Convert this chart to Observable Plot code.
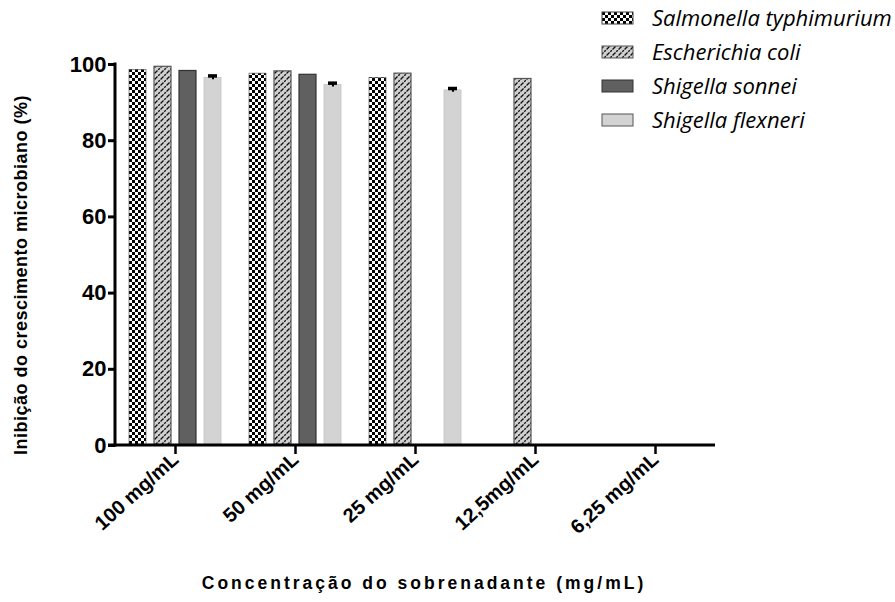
<!DOCTYPE html>
<html><head><meta charset="utf-8">
<script src="https://cdn.jsdelivr.net/npm/d3@7"></script>
<script src="https://cdn.jsdelivr.net/npm/@observablehq/plot@0.6"></script>
<style>
body{margin:0;background:#fff;}
#wrap{position:relative;width:895px;height:602px;overflow:hidden;background:#fff;}
#legend{position:absolute;left:596px;top:0px;}
</style></head><body><div id="wrap"></div>
<script>
const concentrations = ["100 mg/mL", "50 mg/mL", "25 mg/mL", "12,5mg/mL", "6,25 mg/mL"];
const species = ["Salmonella typhimurium", "Escherichia coli", "Shigella sonnei", "Shigella flexneri"];
const salmonella = [98.6, 97.6, 96.5, 0, 0];
const ecoli = [99.4, 98.2, 97.6, 96.2, 0];
const sonnei = [98.3, 97.3, 0, 0, 0];
const flexneri = [96.5, 94.6, 93.2, 0, 0];
const flexneriError = [0.5, 0.5, 0.5, 0, 0];
const yTicks = [0, 20, 40, 60, 80, 100];
const xTitle = "Concentração do sobrenadante (mg/mL)";
const yTitle = "Inibição do crescimento microbiano (%)";

const seriesValues = [salmonella, ecoli, sonnei, flexneri];
const styles = [
  {fill: "url(#pSal)", stroke: "#444", strokeWidth: 0.6},
  {fill: "url(#pEco)", stroke: "#555", strokeWidth: 1.2},
  {fill: "#606060", stroke: "#333", strokeWidth: 1.2},
  {fill: "#d3d3d3", stroke: "#c4c4c4", strokeWidth: 0.8}
];
const rows = concentrations.flatMap((c, i) => species.map((s, j) => ({c, s, v: seriesValues[j][i], e: j === 3 ? flexneriError[i] : 0})));
const shown = rows.filter(d => d.v > 0);
const errRows = shown.filter(d => d.e > 0);

const bars = species.map((sp, j) => Plot.barY(shown.filter(d => d.s === sp), {fx: "c", x: "s", y: "v", ...styles[j]}));

const chart = Plot.plot({
  width: 895, height: 602,
  marginLeft: 115, marginRight: 180, marginTop: 64, marginBottom: 157,
  style: {fontFamily: "'Liberation Sans', Arial, sans-serif", fontWeight: "bold", color: "#000", background: "transparent"},
  fx: {domain: concentrations, padding: 0, label: null},
  x: {domain: species, paddingInner: 0.33, paddingOuter: 0.53, axis: null},
  y: {domain: [0, 100], axis: null},
  marks: [
    ...bars,
    Plot.ruleX(errRows, {fx: "c", x: "s", y1: d => d.v - d.e, y2: d => d.v + d.e, stroke: "#000", strokeWidth: 2}),
    Plot.tickY(errRows, {fx: "c", x: "s", y: d => d.v + d.e, stroke: "#000", strokeWidth: 3.5, inset: 4}),
    Plot.axisY({ticks: yTicks, tickSize: 7, strokeWidth: 3, fontSize: 22, tickPadding: 2, label: null}),
    Plot.axisFx({anchor: "bottom", tickSize: 9, strokeWidth: 2.5, tickRotate: -42, fontSize: 20, tickPadding: 2, label: null})
  ]
});

const svg = d3.select(chart);
svg.insert("defs", ":first-child").html(`
  <pattern id="pSal" patternUnits="userSpaceOnUse" width="6" height="6">
    <rect width="6" height="6" fill="#fff"/>
    <rect width="3" height="3" fill="#000"/>
    <rect x="3" y="3" width="3" height="3" fill="#000"/>
  </pattern>
  <pattern id="pEco" patternUnits="userSpaceOnUse" width="6" height="6">
    <rect width="6" height="6" fill="#d0d0d0"/>
    <path d="M0,6 L6,0 M-1,1 L1,-1 M5,7 L7,5" stroke="#111" stroke-width="1.3" stroke-dasharray="2.2,1"/>
  </pattern>`);
const y = chart.scale("y");
const fx = chart.scale("fx");
const xEnd = fx.apply(concentrations[concentrations.length - 1]) + fx.bandwidth;
svg.append("line").attr("x1", 115).attr("x2", 115)
  .attr("y1", y.apply(0) + 1.5).attr("y2", y.apply(100) - 1.5)
  .attr("stroke", "#000").attr("stroke-width", 3);
svg.append("line").attr("x1", 108).attr("x2", xEnd)
  .attr("y1", y.apply(0)).attr("y2", y.apply(0))
  .attr("stroke", "#000").attr("stroke-width", 3);
svg.append("text").attr("transform", "translate(27,275) rotate(-90)")
  .attr("text-anchor", "middle").attr("font-size", 18).attr("font-weight", "bold")
  .attr("letter-spacing", 0.5).attr("fill", "#000").text(yTitle);
svg.append("text").attr("x", 424).attr("y", 589)
  .attr("text-anchor", "middle").attr("font-size", 17.5).attr("font-weight", "bold")
  .attr("letter-spacing", 3).attr("fill", "#000").text(xTitle);

const wrap = document.getElementById("wrap");
wrap.appendChild(chart);

// legend
const leg = d3.select(wrap).append("svg").attr("id", "legend").attr("width", 299).attr("height", 140);
const rowY = [18, 52, 86, 120];
species.forEach((sp, j) => {
  leg.append("rect").attr("x", 6).attr("y", rowY[j] - 6).attr("width", 31).attr("height", 12)
    .attr("fill", styles[j].fill)
    .attr("stroke", j === 3 ? "#555" : styles[j].stroke).attr("stroke-width", 1);
  leg.append("text").attr("x", 56).attr("y", rowY[j]).attr("dy", "0.36em")
    .attr("font-family", "'Open Sans', sans-serif").attr("font-style", "italic")
    .attr("font-size", 22).attr("fill", "#000").text(sp);
});
</script></body></html>
